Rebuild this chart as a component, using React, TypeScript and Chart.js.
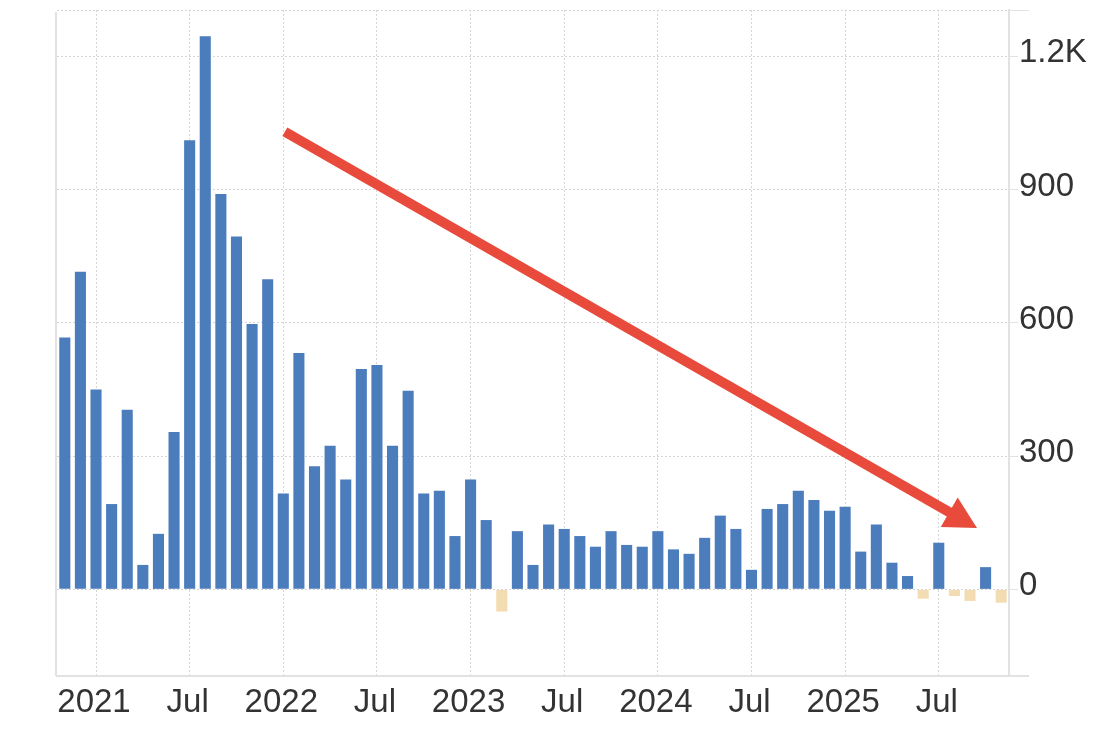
import React, { useEffect, useRef } from "react";
import { Chart, registerables } from "chart.js";

Chart.register(...registerables);

const months: string[] = [
  "2020-11", "2020-12",
  "2021-01", "2021-02", "2021-03", "2021-04", "2021-05", "2021-06",
  "2021-07", "2021-08", "2021-09", "2021-10", "2021-11", "2021-12",
  "2022-01", "2022-02", "2022-03", "2022-04", "2022-05", "2022-06",
  "2022-07", "2022-08", "2022-09", "2022-10", "2022-11", "2022-12",
  "2023-01", "2023-02", "2023-03", "2023-04", "2023-05", "2023-06",
  "2023-07", "2023-08", "2023-09", "2023-10", "2023-11", "2023-12",
  "2024-01", "2024-02", "2024-03", "2024-04", "2024-05", "2024-06",
  "2024-07", "2024-08", "2024-09", "2024-10", "2024-11", "2024-12",
  "2025-01", "2025-02", "2025-03", "2025-04", "2025-05", "2025-06",
  "2025-07", "2025-08", "2025-09", "2025-10", "2025-11",
];

const values: number[] = [
  567, 715,
  450, 192, 404, 55, 125, 354, 1011, 1245, 890, 794, 597, 698,
  216, 532, 277, 323, 247, 496, 505, 323, 447, 216, 222, 120,
  247, 156, -50, 131, 55, 146, 136, 120, 96, 131, 100, 96,
  131, 90, 80, 116, 166, 136, 44, 181, 192, 222, 201, 177,
  186, 85, 146, 60, 30, -21, 105, -15, -26, 50, -30,
];

const yTicks: number[] = [0, 300, 600, 900, 1200];
const yMin = -195;
const yMax = 1304;

// Trend arrow annotation, in data coordinates (category index, value)
const arrowFrom = { x: 14.1, y: 1030 };
const arrowTo = { x: 58.45, y: 138 };

const POS_COLOR = "#4b7dbd";
const NEG_COLOR = "#f3dcb2";
const ARROW_COLOR = "#e84a3c";
const GRID_COLOR = "#d6d6d6";
const AXIS_COLOR = "#e2e2e2";
const TEXT_COLOR = "#333333";
const FONT_FAMILY = "'Liberation Sans', Arial, Helvetica, sans-serif";

function xLabel(m: string): string {
  const [yr, mo] = m.split("-");
  if (mo === "01") return yr;
  if (mo === "07") return "Jul";
  return "";
}

const framePlugin = {
  id: "frame",
  beforeDatasetsDraw(chart: any) {
    const { ctx, chartArea } = chart;
    ctx.save();
    // left border
    ctx.strokeStyle = AXIS_COLOR;
    ctx.lineWidth = 2;
    ctx.beginPath();
    ctx.moveTo(chartArea.left - 1, chartArea.top + 2);
    ctx.lineTo(chartArea.left - 1, chartArea.bottom);
    ctx.stroke();
    // top dotted line
    ctx.strokeStyle = GRID_COLOR;
    ctx.lineWidth = 1;
    ctx.setLineDash([2, 2]);
    ctx.beginPath();
    ctx.moveTo(chartArea.left, chartArea.top + 0.5);
    ctx.lineTo(chartArea.right, chartArea.top + 0.5);
    ctx.stroke();
    ctx.setLineDash([]);
    ctx.strokeStyle = AXIS_COLOR;
    ctx.beginPath();
    ctx.moveTo(chartArea.right, chartArea.top + 0.5);
    ctx.lineTo(chartArea.right + 20, chartArea.top + 0.5);
    ctx.stroke();
    // bottom axis extension
    ctx.lineWidth = 2;
    ctx.beginPath();
    ctx.moveTo(chartArea.right, chartArea.bottom);
    ctx.lineTo(chartArea.right + 20, chartArea.bottom);
    ctx.stroke();
    ctx.restore();
  },
};

const arrowPlugin = {
  id: "trendArrow",
  afterDatasetsDraw(chart: any) {
    const { ctx } = chart;
    const xs = chart.scales.x;
    const ys = chart.scales.y;
    const x1 = xs.getPixelForValue(arrowFrom.x);
    const y1 = ys.getPixelForValue(arrowFrom.y);
    const x2 = xs.getPixelForValue(arrowTo.x);
    const y2 = ys.getPixelForValue(arrowTo.y);
    const dx = x2 - x1;
    const dy = y2 - y1;
    const len = Math.sqrt(dx * dx + dy * dy);
    const ux = dx / len;
    const uy = dy / len;
    const headLen = 32;
    const headHalf = 17;
    const bx = x2 - ux * headLen;
    const by = y2 - uy * headLen;
    ctx.save();
    ctx.strokeStyle = ARROW_COLOR;
    ctx.fillStyle = ARROW_COLOR;
    ctx.lineWidth = 10;
    ctx.lineCap = "butt";
    ctx.beginPath();
    ctx.moveTo(x1, y1);
    ctx.lineTo(bx + ux * 2, by + uy * 2);
    ctx.stroke();
    ctx.beginPath();
    ctx.moveTo(x2, y2);
    ctx.lineTo(bx - uy * headHalf, by + ux * headHalf);
    ctx.lineTo(bx + uy * headHalf, by - ux * headHalf);
    ctx.closePath();
    ctx.fill();
    ctx.restore();
  },
};

export default function App() {
  const canvasRef = useRef<HTMLCanvasElement | null>(null);

  useEffect(() => {
    if (!canvasRef.current) return;
    const chart = new Chart(canvasRef.current, {
      type: "bar",
      data: {
        labels: months,
        datasets: [
          {
            data: values,
            backgroundColor: values.map((v) => (v >= 0 ? POS_COLOR : NEG_COLOR)),
            borderWidth: 0,
            barPercentage: 0.71,
            categoryPercentage: 1,
          },
        ],
      },
      options: {
        animation: false,
        responsive: false,
        maintainAspectRatio: false,
        layout: { padding: { left: 57, top: 10, right: 0, bottom: 0 } },
        plugins: {
          legend: { display: false },
          tooltip: { enabled: false },
          title: { display: false },
        },
        scales: {
          x: {
            type: "category",
            offset: true,
            grid: {
              offset: false,
              drawTicks: false,
              color: (c: any) =>
                xLabel(months[c.index] || "") !== "" ? GRID_COLOR : "rgba(0,0,0,0)",
              lineWidth: 1,
            },
            border: { display: true, color: AXIS_COLOR, width: 2, dash: [2, 2] },
            ticks: {
              autoSkip: false,
              maxRotation: 0,
              minRotation: 0,
              padding: 7,
              labelOffset: -2,
              color: TEXT_COLOR,
              font: { family: FONT_FAMILY, size: 33 },
              callback: (_v: any, i: number) => xLabel(months[i]),
            },
            afterFit: (s: any) => {
              s.height = 53;
              s.paddingLeft = 0;
              s.paddingRight = 0;
            },
          },
          y: {
            position: "right",
            min: yMin,
            max: yMax,
            afterBuildTicks: (s: any) => {
              s.ticks = yTicks.map((v) => ({ value: v }));
            },
            grid: {
              color: GRID_COLOR,
              lineWidth: 1,
              drawTicks: true,
              tickLength: 9,
              tickColor: AXIS_COLOR,
            },
            border: { display: true, color: AXIS_COLOR, width: 2, dash: [2, 2] },
            ticks: {
              padding: 1,
              labelOffset: -3,
              color: TEXT_COLOR,
              font: { family: FONT_FAMILY, size: 33 },
              callback: (v: any) => (Math.abs(v) >= 1000 ? `${v / 1000}K` : `${v}`),
            },
            afterFit: (s: any) => {
              s.width = 98;
              s.paddingTop = 0;
              s.paddingBottom = 0;
            },
          },
        },
      },
      plugins: [framePlugin, arrowPlugin],
    });
    return () => chart.destroy();
  }, []);

  return (
    <div style={{ position: "fixed", left: 0, top: 0, width: 1107, height: 729, background: "#ffffff" }}>
      <canvas ref={canvasRef} width={1107} height={729} style={{ display: "block" }} />
    </div>
  );
}
